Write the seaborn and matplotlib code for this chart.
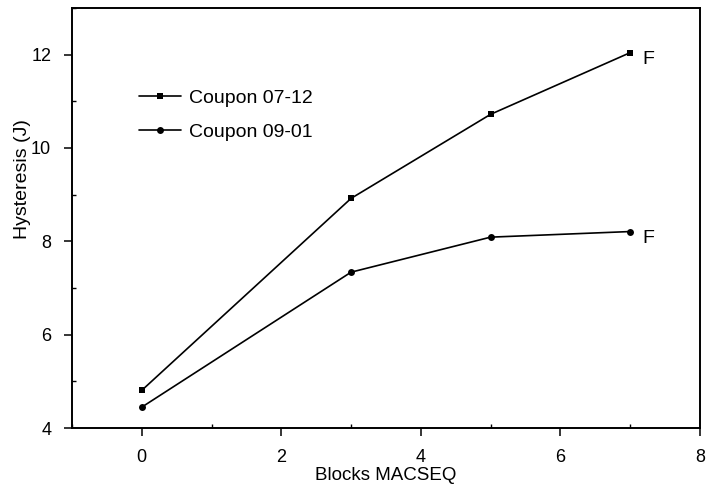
import matplotlib
matplotlib.use("Agg")
import matplotlib.pyplot as plt
import seaborn as sns
import pandas as pd
from matplotlib.ticker import MultipleLocator

blocks = [0, 3, 5, 7]
coupon_0712 = [4.81, 8.92, 10.72, 12.04]
coupon_0901 = [4.45, 7.34, 8.09, 8.21]
series_names = ["Coupon 07-12", "Coupon 09-01"]
end_labels = ["F", "F"]

df = pd.DataFrame({
    "Blocks MACSEQ": blocks * 2,
    "Hysteresis (J)": coupon_0712 + coupon_0901,
    "Series": [series_names[0]] * 4 + [series_names[1]] * 4,
})

sns.set_theme(style="ticks")
plt.rcParams['font.family'] = ['Liberation Sans', 'DejaVu Sans']

fig = plt.figure(figsize=(7.09, 4.91), dpi=100)
ax = fig.add_axes([0.1016, 0.128, 0.8855, 0.856])

sns.lineplot(data=df, x="Blocks MACSEQ", y="Hysteresis (J)", hue="Series",
             style="Series", markers={series_names[0]: "s", series_names[1]: "o"},
             dashes=False, palette=["black", "black"], linewidth=1.2,
             markersize=5, markeredgewidth=0, ax=ax)

ax.set_xlim(-1, 8)
ax.set_ylim(4, 13)
ax.xaxis.set_major_locator(MultipleLocator(2))
ax.xaxis.set_minor_locator(MultipleLocator(1))
ax.yaxis.set_major_locator(MultipleLocator(2))
ax.yaxis.set_minor_locator(MultipleLocator(1))
ax.tick_params(axis="both", which="major", direction="out", length=6, width=1.1,
               labelsize=13, color="black", labelcolor="black", pad=9)
ax.tick_params(axis="both", which="minor", direction="in", length=3, width=1, color="black")
for s in ax.spines.values():
    s.set_color("black")
    s.set_linewidth(1.4)

ax.set_xlabel("Blocks MACSEQ", fontsize=13.5, labelpad=1, color="black")
ax.set_ylabel("Hysteresis (J)", fontsize=14, color="black")
ax.yaxis.set_label_coords(-0.066, 0.593)

for yv, lab in zip([coupon_0712[-1], coupon_0901[-1]], end_labels):
    ax.annotate(lab, xy=(blocks[-1], yv), xytext=(9, -5), textcoords="offset points",
                fontsize=14, va="center", ha="left", color="black")

leg = ax.legend(loc="upper left", bbox_to_anchor=(0.095, 0.825), frameon=False,
                fontsize=14, handlelength=2.15, handletextpad=0.4, labelspacing=0.85,
                borderaxespad=0)
leg.set_title(None)
for t in leg.get_texts():
    t.set_color("black")

fig.savefig("out.png", dpi=100)
